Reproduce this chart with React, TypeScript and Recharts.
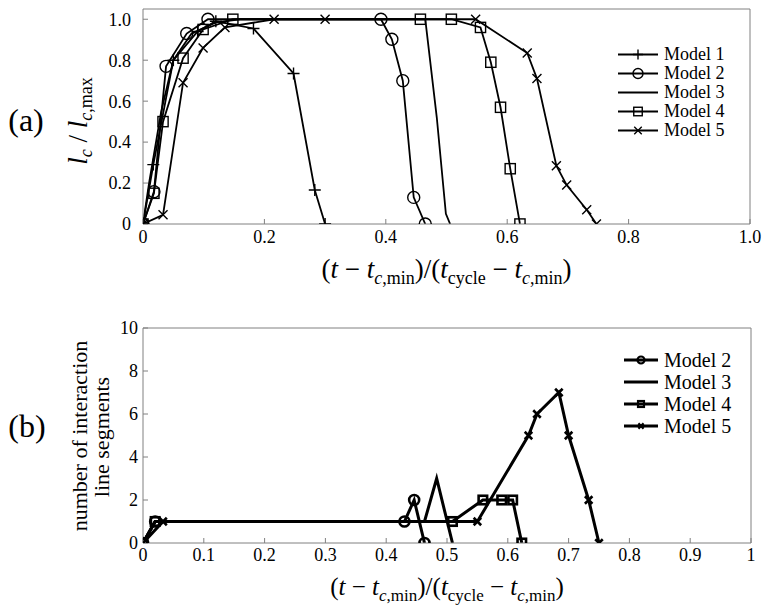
import React from "react";
import { Legend, Line, LineChart, XAxis, YAxis } from "recharts";

const FONT = '"Liberation Serif", "Times New Roman", serif';
const AXIS = "#808080";

// (a) normalised interaction line length vs normalised time
const model1X = [0, 0.017, 0.05, 0.09, 0.12, 0.182, 0.248, 0.283, 0.3];
const model1Y = [0, 0.29, 0.8, 0.94, 0.99, 0.955, 0.735, 0.166, 0];
const model2X = [0, 0.018, 0.038, 0.072, 0.107, 0.392, 0.41, 0.428, 0.446, 0.465];
const model2Y = [0, 0.158, 0.77, 0.93, 1.0, 1.0, 0.902, 0.7, 0.13, 0];
const model3X = [0, 0.01, 0.03, 0.05, 0.08, 0.12, 0.16, 0.465, 0.484, 0.499, 0.506];
const model3Y = [0, 0.2, 0.55, 0.8, 0.93, 0.985, 1.0, 1.0, 0.52, 0.05, 0];
const model4X = [0, 0.018, 0.033, 0.066, 0.099, 0.148, 0.457, 0.508, 0.556, 0.573, 0.589, 0.605, 0.621];
const model4Y = [0, 0.15, 0.5, 0.81, 0.95, 1.0, 1.0, 1.0, 0.96, 0.79, 0.57, 0.27, 0];
const model5X = [0, 0.033, 0.066, 0.099, 0.135, 0.216, 0.3, 0.548, 0.633, 0.649, 0.681, 0.698, 0.731, 0.747];
const model5Y = [0, 0.045, 0.69, 0.86, 0.96, 1.0, 1.0, 1.0, 0.835, 0.71, 0.285, 0.19, 0.07, 0];

// (b) number of interaction line segments
const seg2X = [0, 0.02, 0.43, 0.446, 0.463];
const seg2Y = [0, 1, 1, 2, 0];
const seg3X = [0, 0.02, 0.463, 0.483, 0.509];
const seg3Y = [0, 1, 1, 3, 0];
const seg4X = [0, 0.02, 0.509, 0.559, 0.59, 0.608, 0.623];
const seg4Y = [0, 1, 1, 2, 2, 2, 0];
const seg5X = [0, 0.033, 0.55, 0.634, 0.648, 0.684, 0.7, 0.733, 0.75];
const seg5Y = [0, 1, 1, 5, 6, 7, 5, 2, 0];

const topXTicks = [0, 0.2, 0.4, 0.6, 0.8, 1.0];
const topYTicks = [0, 0.2, 0.4, 0.6, 0.8, 1.0];
const botXTicks = [0, 0.1, 0.2, 0.3, 0.4, 0.5, 0.6, 0.7, 0.8, 0.9, 1];
const botYTicks = [0, 2, 4, 6, 8, 10];

const zip = (xs: number[], ys: number[]) => xs.map((x, i) => ({ x, y: ys[i] }));

type Shape = "plus" | "circle" | "none" | "square" | "cross";

const topSeries: { name: string; shape: Shape; data: { x: number; y: number }[] }[] = [
  { name: "Model 1", shape: "plus", data: zip(model1X, model1Y) },
  { name: "Model 2", shape: "circle", data: zip(model2X, model2Y) },
  { name: "Model 3", shape: "none", data: zip(model3X, model3Y) },
  { name: "Model 4", shape: "square", data: zip(model4X, model4Y) },
  { name: "Model 5", shape: "cross", data: zip(model5X, model5Y) },
];

const botSeries: { name: string; shape: Shape; data: { x: number; y: number }[] }[] = [
  { name: "Model 2", shape: "circle", data: zip(seg2X, seg2Y) },
  { name: "Model 3", shape: "none", data: zip(seg3X, seg3Y) },
  { name: "Model 4", shape: "square", data: zip(seg4X, seg4Y) },
  { name: "Model 5", shape: "cross", data: zip(seg5X, seg5Y) },
];

const Marker = (props: any) => {
  const { cx, cy, shape, size, sw } = props;
  if (cx == null || cy == null || shape === "none") return null;
  const s = size;
  if (shape === "plus")
    return <path d={`M${cx - s},${cy}H${cx + s}M${cx},${cy - s}V${cy + s}`} stroke="#000" strokeWidth={sw} fill="none" />;
  if (shape === "circle") return <circle cx={cx} cy={cy} r={s} stroke="#000" strokeWidth={sw} fill="none" />;
  if (shape === "square")
    return <rect x={cx - s * 0.85} y={cy - s * 0.85} width={s * 1.7} height={s * 1.7} stroke="#000" strokeWidth={sw} fill="none" />;
  const d = s * 0.75;
  return <path d={`M${cx - d},${cy - d}L${cx + d},${cy + d}M${cx - d},${cy + d}L${cx + d},${cy - d}`} stroke="#000" strokeWidth={sw} fill="none" />;
};

const MathLabel = ({ cx, y, size }: { cx: number; y: number; size: number }) => {
  const sub = Math.round(size * 0.66);
  const dy = Math.round(size * 0.22);
  return (
    <text x={cx} y={y} textAnchor="middle" fontSize={size} fontFamily={FONT} fill="#000">
      <tspan>(</tspan>
      <tspan fontStyle="italic">t</tspan>
      <tspan> − </tspan>
      <tspan fontStyle="italic">t</tspan>
      <tspan fontSize={sub} dy={dy} fontStyle="italic">c</tspan>
      <tspan fontSize={sub}>,min</tspan>
      <tspan dy={-dy}>)/(</tspan>
      <tspan fontStyle="italic">t</tspan>
      <tspan fontSize={sub} dy={dy}>cycle</tspan>
      <tspan dy={-dy}> − </tspan>
      <tspan fontStyle="italic">t</tspan>
      <tspan fontSize={sub} dy={dy} fontStyle="italic">c</tspan>
      <tspan fontSize={sub}>,min</tspan>
      <tspan dy={-dy}>)</tspan>
    </text>
  );
};

const TopYTitle = () => (
  <g>
    <text x={26} y={131} textAnchor="middle" fontSize={32} fontFamily={FONT} fill="#000">
      (a)
    </text>
    <text transform="translate(87,121) rotate(-90)" textAnchor="middle" fontSize={27} fontFamily={FONT} fill="#000">
      <tspan fontStyle="italic">l</tspan>
      <tspan fontSize={18} dy={5} fontStyle="italic">c</tspan>
      <tspan dy={-5}> / </tspan>
      <tspan fontStyle="italic">l</tspan>
      <tspan fontSize={18} dy={5} fontStyle="italic">c</tspan>
      <tspan fontSize={18}>,max</tspan>
    </text>
  </g>
);

const BotYTitle = () => (
  <g>
    <text x={27} y={137} textAnchor="middle" fontSize={32} fontFamily={FONT} fill="#000">
      (b)
    </text>
    <text transform="translate(87,136) rotate(-90)" textAnchor="middle" fontSize={22} fontFamily={FONT} fill="#000">
      number of interaction
    </text>
    <text transform="translate(109,137) rotate(-90)" textAnchor="middle" fontSize={22} fontFamily={FONT} fill="#000">
      line segments
    </text>
  </g>
);

const LegendBox = ({ items, lineLen, rowH, fontSize, size, sw, lw }: any) => (
  <div style={{ fontFamily: FONT, fontSize, lineHeight: `${rowH}px`, color: "#000" }}>
    {items.map((it: any) => (
      <div key={it.name} style={{ display: "flex", alignItems: "center", height: rowH, whiteSpace: "nowrap" }}>
        <svg width={lineLen} height={rowH} style={{ marginRight: 5 }}>
          <line x1={1} x2={lineLen - 1} y1={rowH / 2} y2={rowH / 2} stroke="#000" strokeWidth={lw} />
          <Marker cx={lineLen / 2} cy={rowH / 2} shape={it.shape} size={size} sw={sw} />
        </svg>
        <span>{it.name}</span>
      </div>
    ))}
  </div>
);

const fmtTop = (v: number) => (v === 0 ? "0" : v.toFixed(1));
const tickStyle = (fs: number) => ({ fill: "#000", fontSize: fs, fontFamily: FONT });

const App = () => {
  return (
    <div style={{ position: "absolute", left: 0, top: 0, width: 762, height: 611, background: "#fff", fontFamily: FONT }}>
      <div style={{ position: "absolute", left: 0, top: 0 }}>
        <LineChart width={762} height={300} margin={{ top: 8, right: 11, bottom: 75, left: 142 }}>
          <XAxis
            dataKey="x"
            type="number"
            domain={[0, 1]}
            ticks={topXTicks}
            tickFormatter={fmtTop}
            height={1}
            tickSize={-5}
            tickMargin={11}
            stroke={AXIS}
            tick={tickStyle(18)}
            allowDataOverflow
            label={{ content: (p: any) => <MathLabel cx={p.viewBox.x + p.viewBox.width / 2} y={p.viewBox.y + 54} size={27} /> }}
          />
          <XAxis xAxisId="top" orientation="top" type="number" domain={[0, 1]} ticks={topXTicks} height={1} tickSize={-5} tick={false} stroke={AXIS} />
          <YAxis
            type="number"
            domain={[0, 1.05]}
            ticks={topYTicks}
            tickFormatter={fmtTop}
            width={1}
            tickSize={-5}
            tickMargin={17}
            stroke={AXIS}
            tick={tickStyle(18)}
            allowDataOverflow
            label={{ content: () => <TopYTitle /> }}
          />
          <YAxis yAxisId="right" orientation="right" type="number" domain={[0, 1.05]} ticks={topYTicks} width={1} tickSize={-5} tick={false} stroke={AXIS} />
          {topSeries.map((s) => (
            <Line
              key={s.name}
              name={s.name}
              data={s.data}
              dataKey="y"
              type="linear"
              stroke="#000"
              strokeWidth={1.8}
              isAnimationActive={false}
              activeDot={false}
              dot={(p: any) => <Marker key={`${s.name}-${p.index}`} cx={p.cx} cy={p.cy} shape={s.shape} size={6} sw={1.4} />}
            />
          ))}
          <Legend
            layout="vertical"
            align="center"
            verticalAlign="middle"
            wrapperStyle={{ left: 617, top: 45, width: "auto" }}
            content={() => <LegendBox items={topSeries} lineLen={42} rowH={19} fontSize={18} size={5} sw={1.4} lw={1.8} />}
          />
        </LineChart>
      </div>
      <div style={{ position: "absolute", left: 0, top: 300 }}>
        <LineChart width={762} height={311} margin={{ top: 27, right: 10, bottom: 67, left: 142 }}>
          <XAxis
            dataKey="x"
            type="number"
            domain={[0, 1]}
            ticks={botXTicks}
            height={1}
            tickSize={-5}
            tickMargin={10}
            stroke={AXIS}
            tick={tickStyle(18)}
            allowDataOverflow
            label={{ content: (p: any) => <MathLabel cx={p.viewBox.x + p.viewBox.width / 2} y={p.viewBox.y + 52} size={25} /> }}
          />
          <XAxis xAxisId="top" orientation="top" type="number" domain={[0, 1]} ticks={botXTicks} height={1} tickSize={-5} tick={false} stroke={AXIS} />
          <YAxis
            type="number"
            domain={[0, 10]}
            ticks={botYTicks}
            width={1}
            tickSize={-5}
            tickMargin={10}
            stroke={AXIS}
            tick={tickStyle(18)}
            allowDataOverflow
            label={{ content: () => <BotYTitle /> }}
          />
          <YAxis yAxisId="right" orientation="right" type="number" domain={[0, 10]} ticks={botYTicks} width={1} tickSize={-5} tick={false} stroke={AXIS} />
          {botSeries.map((s) => (
            <Line
              key={s.name}
              name={s.name}
              data={s.data}
              dataKey="y"
              type="linear"
              stroke="#000"
              strokeWidth={3}
              isAnimationActive={false}
              activeDot={false}
              dot={(p: any) => <Marker key={`${s.name}-${p.index}`} cx={p.cx} cy={p.cy} shape={s.shape} size={5} sw={2.6} />}
            />
          ))}
          <Legend
            layout="vertical"
            align="center"
            verticalAlign="middle"
            wrapperStyle={{ left: 623, top: 49, width: "auto" }}
            content={() => <LegendBox items={botSeries} lineLen={36} rowH={22} fontSize={20} size={3.5} sw={2.2} lw={3} />}
          />
        </LineChart>
      </div>
    </div>
  );
};

export default App;
